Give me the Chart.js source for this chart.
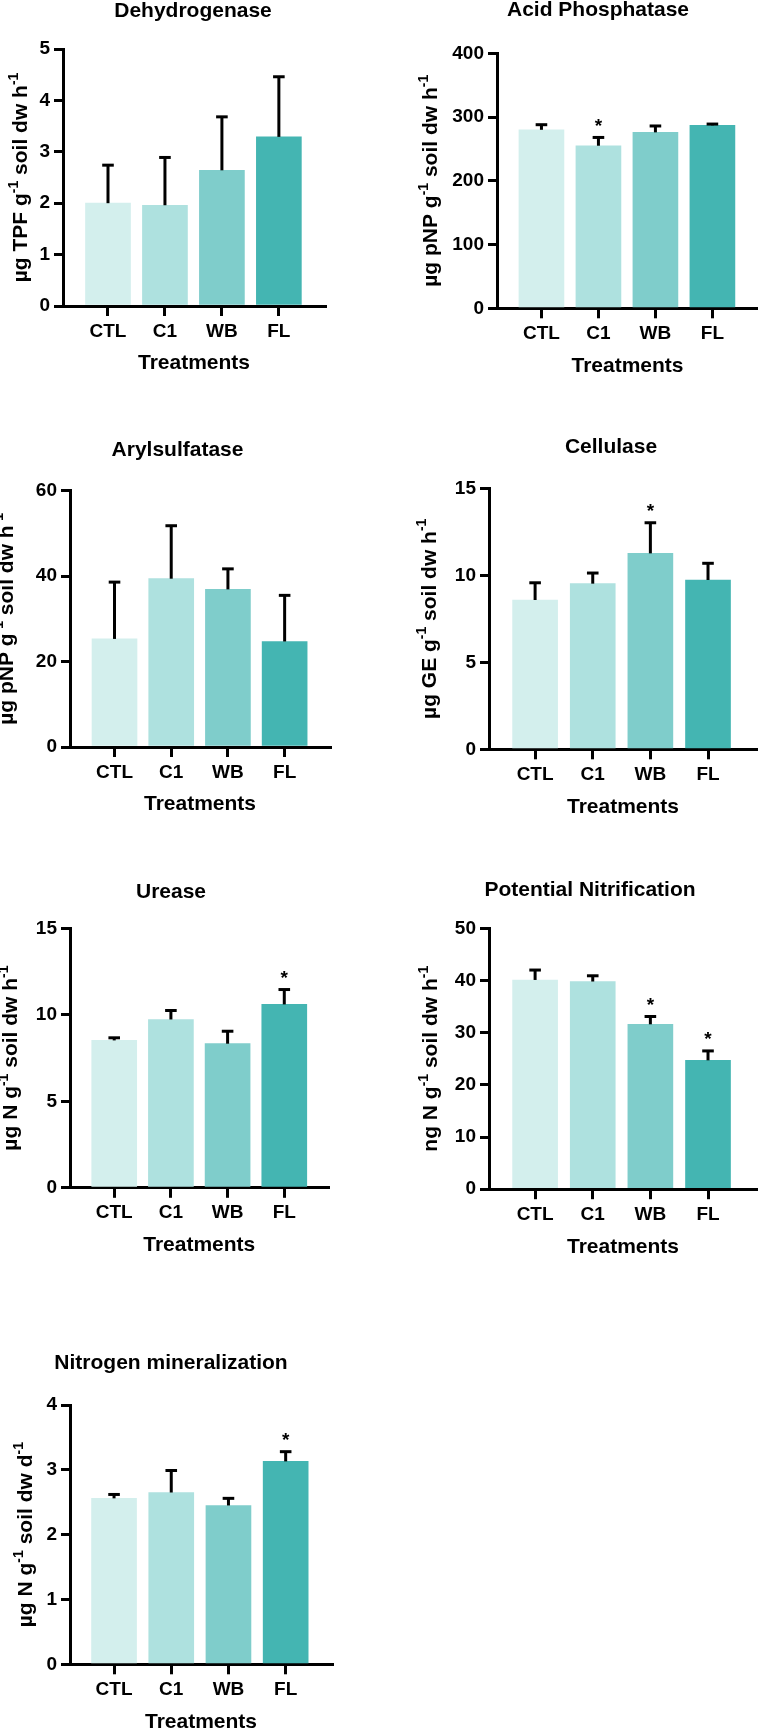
<!DOCTYPE html>
<html><head><meta charset="utf-8">
<script src="https://cdn.jsdelivr.net/npm/chart.js@4.4.0/dist/chart.umd.min.js"></script>
<style>
html,body{margin:0;padding:0;background:#fff;}
body{width:758px;height:1730px;position:relative;overflow:hidden;}
canvas{position:absolute;}
</style></head><body>
<script>
// ---------- DATA ----------
const categories = ['CTL', 'C1', 'WB', 'FL'];
const panelTitles = ['Dehydrogenase', 'Acid Phosphatase', 'Arylsulfatase', 'Cellulase', 'Urease', 'Potential Nitrification', 'Nitrogen mineralization'];
const xAxisTitle = 'Treatments';

const dehydrogenaseMean = [2.00, 1.96, 2.64, 3.29];
const dehydrogenaseErr  = [0.74, 0.93, 1.04, 1.17];
const dehydrogenaseSig  = [0, 0, 0, 0];

const acidPhosMean = [280, 255, 276, 287];
const acidPhosErr  = [8, 13, 10, 2];
const acidPhosSig  = [0, 1, 0, 0];

const arylsulfMean = [25.3, 39.4, 36.9, 24.7];
const arylsulfErr  = [13.3, 12.4, 4.8, 10.8];
const arylsulfSig  = [0, 0, 0, 0];

const cellulaseMean = [8.58, 9.52, 11.26, 9.73];
const cellulaseErr  = [0.99, 0.61, 1.76, 0.96];
const cellulaseSig  = [0, 0, 1, 0];

const ureaseMean = [8.52, 9.73, 8.33, 10.60];
const ureaseErr  = [0.15, 0.52, 0.72, 0.86];
const ureaseSig  = [0, 0, 0, 1];

const nitrifMean = [40.1, 39.8, 31.6, 24.7];
const nitrifErr  = [1.9, 1.1, 1.5, 1.8];
const nitrifSig  = [0, 0, 1, 1];

const nminMean = [2.56, 2.65, 2.45, 3.13];
const nminErr  = [0.06, 0.34, 0.11, 0.15];
const nminSig  = [0, 0, 0, 1];

// y-axis ranges / tick steps
const yMaxes = [5, 400, 60, 15, 15, 50, 4];
const ySteps = [1, 100, 20, 5, 5, 10, 1];

// y-axis titles: [normal, superscript, normal, superscript]
const yTitles = [
  ['µg TPF g', '-1', ' soil dw h', '-1'],
  ['µg pNP g', '-1', ' soil dw h', '-1'],
  ['µg pNP g', '-1', ' soil dw h', '-1'],
  ['µg GE g', '-1', ' soil dw h', '-1'],
  ['µg N g', '-1', ' soil dw h', '-1'],
  ['ng N g', '-1', ' soil dw h', '-1'],
  ['µg N g', '-1', ' soil dw d', '-1']
];

const seriesMeans = [dehydrogenaseMean, acidPhosMean, arylsulfMean, cellulaseMean, ureaseMean, nitrifMean, nminMean];
const seriesErrs  = [dehydrogenaseErr, acidPhosErr, arylsulfErr, cellulaseErr, ureaseErr, nitrifErr, nminErr];
const seriesSigs  = [dehydrogenaseSig, acidPhosSig, arylsulfSig, cellulaseSig, ureaseSig, nitrifSig, nminSig];

// ---------- STYLE / LAYOUT ----------
const barColors = ['#D3EFED', '#AEE1DF', '#7FCDCB', '#44B5B2'];
const FONT = '"Liberation Sans", Arial, Helvetica, sans-serif';
const X_SCALE_H = 68.2;

// box: canvas rect; area: chart area (absolute page px); title: centre x / baseline y; ytx: y-title baseline x
const layouts = [
  {box:[0,0,379,400],     area:[63,49,325,306],        title:[193,17],     ytx:27.3,  xr:[-0.79,3.81]},
  {box:[379,0,379,400],   area:[497,53.3,758,308.3],   title:[598,16],     ytx:437.3, xr:[-0.78,3.80]},
  {box:[0,400,379,420],   area:[70,490.7,330,747],     title:[177.5,456],  ytx:12.5,  xr:[-0.785,3.80]},
  {box:[379,400,379,420], area:[489,488.3,757,749.3],  title:[611,453.3],  ytx:435.6, xr:[-0.80,3.85]},
  {box:[0,820,379,470],   area:[70,928.3,328.5,1187.8],title:[171,897.7],  ytx:17.3,  xr:[-0.78,3.78]},
  {box:[379,820,379,470], area:[489,928.3,757,1189.2], title:[590,896],    ytx:437.3, xr:[-0.80,3.85]},
  {box:[0,1290,379,440],  area:[70,1405,332,1664.3],   title:[171,1369.3], ytx:32.3,  xr:[-0.77,3.81]}
];

const annotPlugin = {
  id: 'annot',
  afterDatasetsDraw(chart) {
    const p = chart.$panel;
    const ctx = chart.ctx;
    const ys = chart.scales.y;
    const meta = chart.getDatasetMeta(0);
    ctx.save();
    ctx.strokeStyle = '#000';
    ctx.fillStyle = '#000';
    ctx.lineWidth = 3;
    ctx.lineCap = 'butt';
    meta.data.forEach((bar, i) => {
      const base = ys.getPixelForValue(p.mean[i]);
      const top = ys.getPixelForValue(p.mean[i] + p.err[i]);
      ctx.beginPath();
      ctx.moveTo(bar.x, base);
      ctx.lineTo(bar.x, top);
      ctx.stroke();
      ctx.beginPath();
      ctx.moveTo(bar.x - 5.8, top);
      ctx.lineTo(bar.x + 5.8, top);
      ctx.stroke();
      if (p.sig[i]) {
        ctx.font = 'bold 19px ' + FONT;
        ctx.textAlign = 'center';
        ctx.textBaseline = 'alphabetic';
        ctx.fillText('*', bar.x, top - 16.5 + 0.56 * 19);
      }
    });
    ctx.restore();
  },
  afterDraw(chart) {
    const p = chart.$panel;
    const L = p.layout;
    const ctx = chart.ctx;
    const bx = L.box[0], by = L.box[1];
    ctx.save();
    ctx.fillStyle = '#000';
    // panel title
    ctx.font = 'bold 21px ' + FONT;
    ctx.textAlign = 'center';
    ctx.textBaseline = 'alphabetic';
    ctx.fillText(p.title, L.title[0] - bx, L.title[1] - by);
    // rotated y title with superscripts
    const fs = 21, sfs = 14;
    const segs = p.yTitle.map((t, i) => ({t, sup: i % 2 === 1}));
    let total = 0;
    segs.forEach(s => {
      ctx.font = 'bold ' + (s.sup ? sfs : fs) + 'px ' + FONT;
      s.w = ctx.measureText(s.t).width;
      total += s.w;
    });
    const cy = (L.area[1] + L.area[3]) / 2 - by;
    ctx.translate(L.ytx - bx, cy);
    ctx.rotate(-Math.PI / 2);
    ctx.textAlign = 'left';
    let x = -total / 2;
    segs.forEach(s => {
      ctx.font = 'bold ' + (s.sup ? sfs : fs) + 'px ' + FONT;
      ctx.fillText(s.t, x, s.sup ? -0.45 * fs : 0);
      x += s.w;
    });
    ctx.restore();
  }
};

layouts.forEach((L, k) => {
  const [bx, by, bw, bh] = L.box;
  const [al, at, ar, ab] = L.area;
  const cv = document.createElement('canvas');
  cv.width = bw; cv.height = bh;
  cv.style.left = bx + 'px'; cv.style.top = by + 'px';
  cv.style.width = bw + 'px'; cv.style.height = bh + 'px';
  document.body.appendChild(cv);
  const panel = {
    layout: L, title: panelTitles[k], yTitle: yTitles[k],
    mean: seriesMeans[k], err: seriesErrs[k], sig: seriesSigs[k]
  };
  const tickFont = {family: FONT, size: 19, weight: 'bold'};
  new Chart(cv, {
    type: 'bar',
    data: {
      datasets: [{
        data: panel.mean.map((v, i) => ({x: i, y: v})),
        backgroundColor: barColors,
        borderWidth: 0,
        barThickness: 45
      }]
    },
    options: {
      responsive: false,
      animation: false,
      devicePixelRatio: 1,
      events: [],
      layout: {
        padding: {
          left: 0,
          top: at - by,
          right: (bx + bw) - ar,
          bottom: (by + bh) - ab - X_SCALE_H
        }
      },
      plugins: {legend: {display: false}, title: {display: false}, tooltip: {enabled: false}},
      scales: {
        x: {
          type: 'linear', min: L.xr[0], max: L.xr[1], offset: false, z: 1,
          grid: {display: true, drawOnChartArea: false, drawTicks: true, tickLength: 10, lineWidth: 3, color: '#000', offset: false},
          border: {display: true, width: 3, color: '#000'},
          ticks: {
            stepSize: 1, includeBounds: false, autoSkip: false, maxRotation: 0, minRotation: 0,
            padding: 4, color: '#000', font: tickFont,
            callback: v => (categories[v] !== undefined ? categories[v] : '')
          },
          title: {display: true, text: xAxisTitle, color: '#000', font: {family: FONT, size: 21, weight: 'bold', lineHeight: 1}, padding: {top: 0, bottom: 0}},
          afterFit: s => { s.height = X_SCALE_H; }
        },
        y: {
          min: 0, max: yMaxes[k], z: 1,
          grid: {display: true, drawOnChartArea: false, drawTicks: true, tickLength: 9, lineWidth: 3, color: '#000'},
          border: {display: true, width: 3, color: '#000'},
          ticks: {stepSize: ySteps[k], padding: 4, color: '#000', font: tickFont},
          afterFit: s => { s.width = al - bx; }
        }
      }
    },
    plugins: [{id: 'panelRef', beforeInit(c) { c.$panel = panel; }}, annotPlugin]
  });
});
</script>
</body></html>
